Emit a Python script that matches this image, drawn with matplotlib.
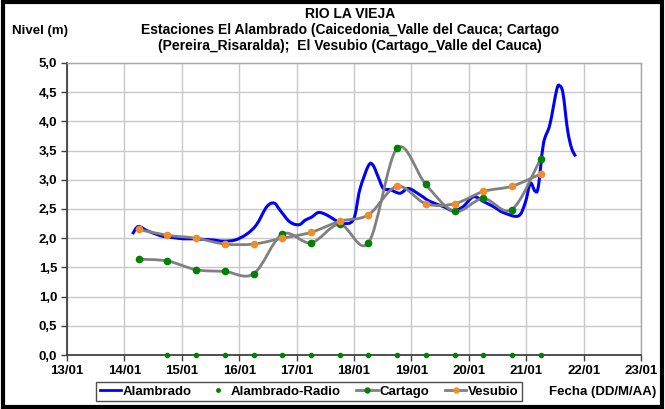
""" Rio La Vieja - niveles """

import numpy as np
import matplotlib
matplotlib.use('Agg')
import matplotlib.pyplot as plt
from matplotlib.path import Path
from matplotlib.patches import PathPatch, Rectangle
from matplotlib.lines import Line2D

plt.rcParams['font.family'] = ['Liberation Sans', 'DejaVu Sans']
plt.rcParams['font.weight'] = 'bold'

# dias de enero (fraccion del dia)
alambrado_dia = [14.14, 14.24, 14.39, 14.55, 14.68, 14.85, 15.03, 15.20, 15.37, 15.55,
                 15.72, 15.93, 16.13, 16.30, 16.48, 16.61, 16.71, 16.88, 17.04, 17.15,
                 17.26, 17.38, 17.52, 17.67, 17.79, 17.99, 18.10, 18.25, 18.33, 18.42,
                 18.51, 18.63, 18.80, 18.95, 19.15, 19.32, 19.56, 19.73, 19.90, 20.08,
                 20.25, 20.43, 20.60, 20.86, 20.98, 21.07, 21.15, 21.21, 21.30, 21.41,
                 21.53, 21.58, 21.64, 21.72, 21.79, 21.86]
alambrado_nivel = [2.07, 2.20, 2.13, 2.07, 2.03, 2.01, 1.99, 1.99, 1.98, 1.97,
                   1.95, 1.97, 2.07, 2.23, 2.54, 2.60, 2.48, 2.28, 2.23, 2.31,
                   2.36, 2.44, 2.40, 2.31, 2.25, 2.32, 2.83, 3.24, 3.25, 3.05,
                   2.85, 2.83, 2.77, 2.85, 2.74, 2.63, 2.54, 2.47, 2.54, 2.71,
                   2.63, 2.54, 2.44, 2.38, 2.60, 2.94, 2.81, 2.88, 3.62, 3.94,
                   4.54, 4.61, 4.48, 3.85, 3.54, 3.40]

radio_dia = [14.75, 15.25, 15.75, 16.25, 16.75, 17.25, 17.75, 18.25, 18.75, 19.25,
             19.75, 20.25, 20.75, 21.25]
radio_nivel = [0.0] * 14

cartago_dia = [14.25, 14.75, 15.25, 15.75, 16.25, 16.75, 17.25, 17.75, 18.25, 18.75,
               19.25, 19.75, 20.25, 20.75, 21.25]
cartago_nivel = [1.64, 1.61, 1.46, 1.43, 1.39, 2.07, 1.92, 2.24, 1.92, 3.54,
                 2.92, 2.46, 2.68, 2.49, 3.36]

vesubio_dia = [14.25, 14.75, 15.25, 15.75, 16.25, 16.75, 17.25, 17.75, 18.25, 18.75,
               19.25, 19.75, 20.25, 20.75, 21.25]
vesubio_nivel = [2.15, 2.05, 2.00, 1.90, 1.90, 2.00, 2.10, 2.29, 2.40, 2.89,
                 2.59, 2.59, 2.80, 2.89, 3.10]

dias_ticks = list(range(13, 24))


def smooth_path(xs, ys):
    """ curva suavizada tipo Excel (Bezier por segmentos) """
    pts = np.column_stack([xs, ys]).astype(float)
    verts = [pts[0]]
    codes = [Path.MOVETO]
    n = len(pts)
    for i in range(n - 1):
        p0 = pts[max(i - 1, 0)]
        p1 = pts[i]
        p2 = pts[i + 1]
        p3 = pts[min(i + 2, n - 1)]
        c1 = p1 + (p2 - p0) / 6.0
        c2 = p2 - (p3 - p1) / 6.0
        verts += [c1, c2, p2]
        codes += [Path.CURVE4] * 3
    return Path(verts, codes)


fig = plt.figure(figsize=(6.65, 4.09), dpi=100)
ax = fig.add_axes([0.1008, 0.132, 0.8632, 0.714])

fs = 9.5
gris = '#808080'
verde = '#008000'
naranja = '#F28C28'

ax.add_patch(PathPatch(smooth_path(alambrado_dia, alambrado_nivel), fill=False,
                       edgecolor='#0000FF', lw=2.2, zorder=3))
ax.add_patch(PathPatch(smooth_path(cartago_dia, cartago_nivel), fill=False,
                       edgecolor=gris, lw=2.0, zorder=4))
ax.add_patch(PathPatch(smooth_path(vesubio_dia, vesubio_nivel), fill=False,
                       edgecolor=gris, lw=2.0, zorder=4))
ax.plot(cartago_dia, cartago_nivel, ls='none', marker='o', ms=4.5, color=verde, zorder=5)
ax.plot(vesubio_dia, vesubio_nivel, ls='none', marker='o', ms=4.5, color=naranja, zorder=5)
ax.plot(radio_dia, radio_nivel, ls='none', marker='o', ms=3, color=verde, zorder=6,
        clip_on=False)

ax.set_xlim(13, 23)
ax.set_ylim(0, 5)
ax.set_xticks(dias_ticks)
ax.set_xticklabels(['%02d/01' % d for d in dias_ticks])
yvals = np.arange(0, 5.01, 0.5)
ax.set_yticks(yvals)
ax.set_yticklabels([('%.1f' % v).replace('.', ',') for v in yvals])
ax.tick_params(labelsize=fs, length=4, width=1, color='#404040', direction='out', pad=3)
for lab in ax.get_xticklabels() + ax.get_yticklabels():
    lab.set_fontweight('bold')
ax.grid(True, color='#C8C8C8', lw=1)
ax.set_axisbelow(True)
for side in ['left', 'bottom']:
    ax.spines[side].set_color('#404040')
    ax.spines[side].set_linewidth(1.3)
for side in ['top', 'right']:
    ax.spines[side].set_color('#A8A8A8')
    ax.spines[side].set_linewidth(1)

fig.text(0.526, 0.983, 'RIO LA VIEJA\nEstaciones El Alambrado (Caicedonia_Valle del Cauca; Cartago\n'
         '(Pereira_Risaralda);  El Vesubio (Cartago_Valle del Cauca)',
         ha='center', va='top', fontsize=10, fontweight='bold', linespacing=1.2)
fig.text(0.018, 0.925, 'Nivel (m)', ha='left', va='center', fontsize=fs, fontweight='bold')
fig.text(0.906, 0.042, 'Fecha (DD/M/AA)', ha='center', va='center', fontsize=fs,
         fontweight='bold')

handles = [
    Line2D([], [], color='#0000FF', lw=2.0),
    Line2D([], [], ls='none', marker='o', ms=2.5, color=verde),
    Line2D([], [], color=gris, lw=2.0, marker='o', ms=3.5, mfc=verde, mec=verde),
    Line2D([], [], color=gris, lw=2.0, marker='o', ms=3.5, mfc=naranja, mec=naranja),
]
leg = fig.legend(handles, ['Alambrado', 'Alambrado-Radio', 'Cartago', 'Vesubio'],
                 loc='center', bbox_to_anchor=(0.465, 0.042), ncol=4,
                 frameon=True, fancybox=False, handlelength=1.6, handletextpad=0.15,
                 columnspacing=1.2, borderpad=0.25,
                 prop={'weight': 'bold', 'size': fs})
leg.get_frame().set_edgecolor('#202020')
leg.get_frame().set_linewidth(1)

fig.patches.append(Rectangle((0.004, 0.005), 0.992, 0.99, transform=fig.transFigure,
                             fill=False, edgecolor='black', lw=3))

fig.savefig('out.png', dpi=100)
